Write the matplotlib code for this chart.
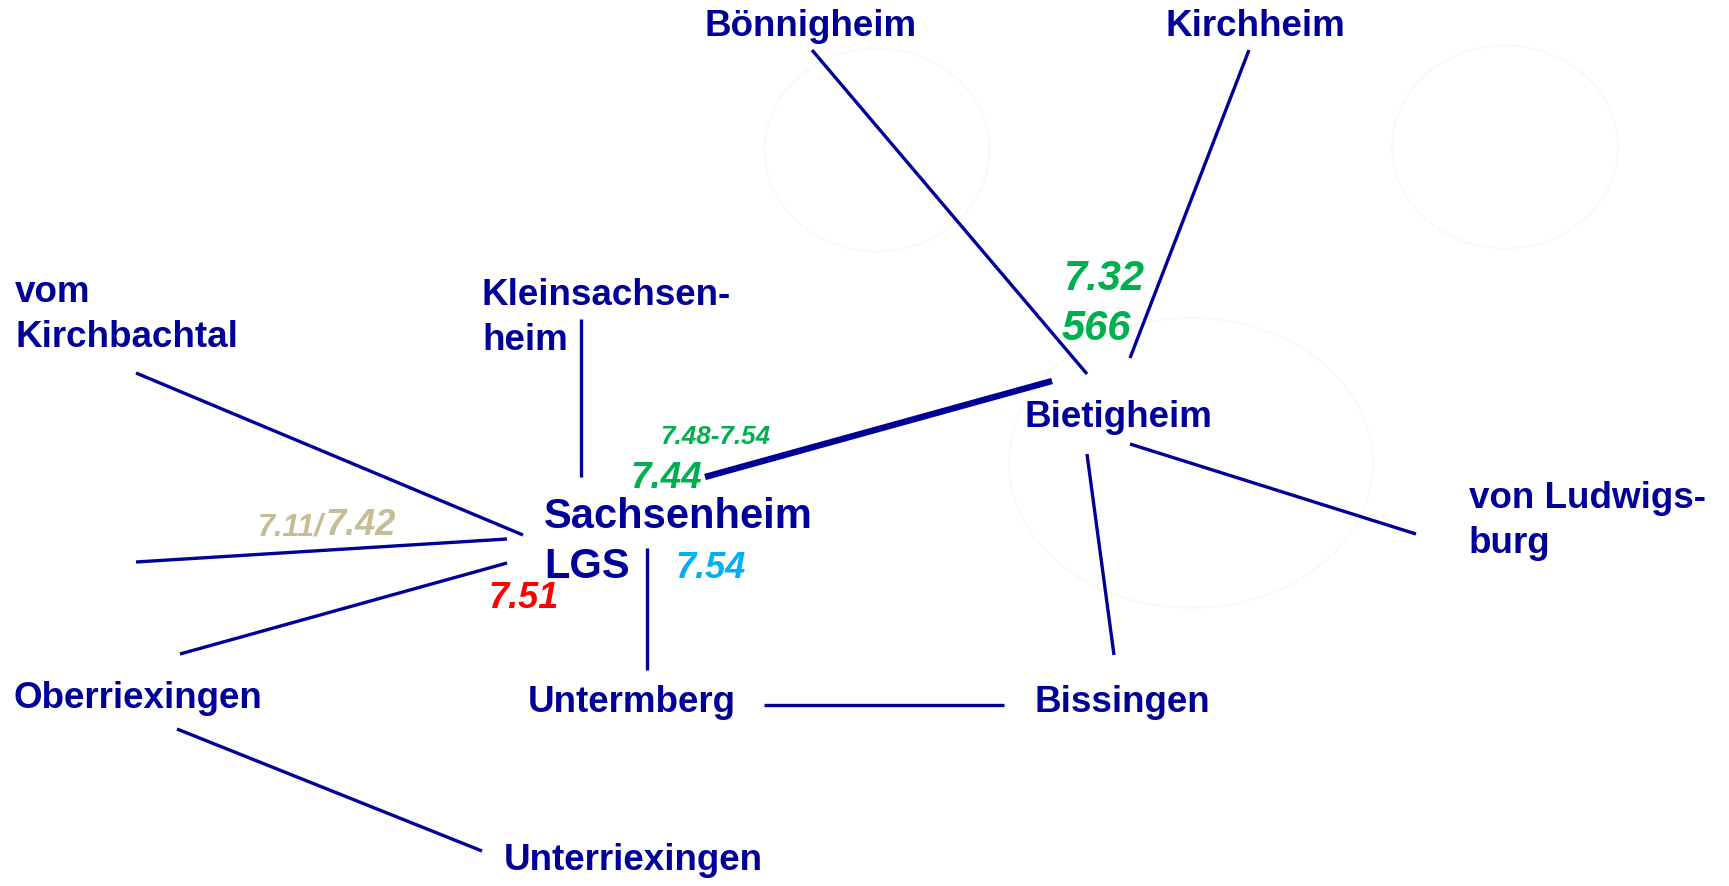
import matplotlib
matplotlib.use("Agg")
import matplotlib.pyplot as plt
from matplotlib.patches import Ellipse

# ---- data ----
places = ["Bönnigheim", "Kirchheim", "vom\nKirchbachtal", "Kleinsachsen-\nheim",
          "Bietigheim", "von Ludwigs-\nburg", "Sachsenheim\nLGS", "Oberriexingen",
          "Untermberg", "Bissingen", "Unterriexingen"]
values = ["7.48-7.54", "7.44", "7.32", "566", "7.54", "7.51", "7.11/", "7.42"]
value_colors = ["#00B050", "#00B050", "#00B050", "#00B050", "#00B0F0", "#FF0000", "#C4BD97", "#C4BD97"]

# ---- layout (diagram coordinates, pixels of the 1729x886 canvas) ----
place_pos = [(705, 36), (1166, 36), (15, 302), (482, 305), (1025, 427), (1469, 508),
             (544, 528), (14, 708), (528, 712), (1035, 712), (504, 870)]
place_size = [26.5, 26.5, 26.5, 26.5, 26.5, 26.5, 30, 26.5, 26.5, 26.5, 26.5]
value_pos = [(660, 444), (630, 488), (1063, 290), (1062, 340), (675, 578), (488, 608),
             (258, 535), (325, 535)]
value_size = [18.7, 26.5, 30, 30, 26, 26, 22, 26]

edges = [((812, 50), (1087, 374)), ((1249, 50), (1130, 358)), ((705, 477), (1052, 381)),
         ((1130, 444), (1416, 534)), ((1087, 454), (1114, 655)), ((764, 705), (1004, 705)),
         ((647, 548), (647, 670)), ((581, 319), (581, 477)), ((136, 373), (523, 535)),
         ((136, 562), (507, 539)), ((180, 654), (507, 563)), ((177, 729), (482, 851))]
edge_width = [2.4, 2.4, 4.6, 2.4, 2.4, 2.4, 2.4, 2.4, 2.4, 2.4, 2.4, 2.4]

NAVY = "#000099"
W, H = 1729, 886
fig = plt.figure(figsize=(W / 100, H / 100), dpi=100)
ax = fig.add_axes([0, 0, 1, 1])
ax.set_xlim(0, W)
ax.set_ylim(H, 0)
ax.axis("off")

# faint background circles
for c, w, h in [((877, 150), 225, 203), ((1505, 147), 226, 203), ((1191, 463), 364, 290)]:
    ax.add_patch(Ellipse(c, w, h, fill=False, edgecolor="#F8F8F8", lw=1.2, zorder=0))

for (p0, p1), lw in zip(edges, edge_width):
    ax.plot([p0[0], p1[0]], [p0[1], p1[1]], color=NAVY, lw=lw, solid_capstyle="butt", zorder=2)

for name, (x, y), s in zip(places, place_pos, place_size):
    lines = name.split("\n")
    step = 45 if s < 28 else 50
    for i, ln in enumerate(lines):
        ax.text(x, y + i * step, ln, fontsize=s, fontweight="bold", color=NAVY,
                family="Liberation Sans", ha="left", va="baseline", zorder=3)

for v, (x, y), s, c in zip(values, value_pos, value_size, value_colors):
    ax.text(x, y, v, fontsize=s, fontweight="bold", fontstyle="italic", color=c,
            family="Liberation Sans", ha="left", va="baseline", zorder=3)

fig.savefig("out.png", dpi=100, facecolor="white")
